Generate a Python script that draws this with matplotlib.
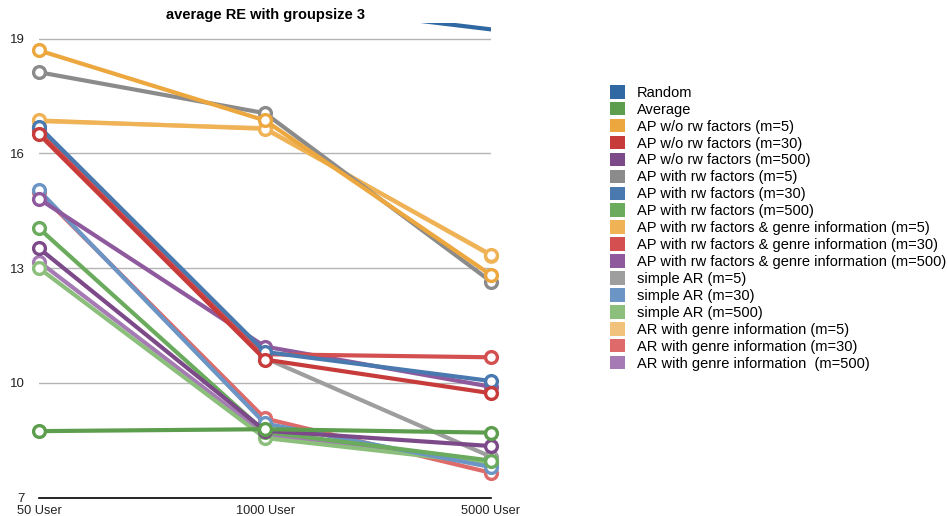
import matplotlib
matplotlib.use("Agg")
import matplotlib.pyplot as plt
from matplotlib.patches import Patch

plt.rcParams['font.family'] = ['Liberation Sans', 'DejaVu Sans']

categories = ["50 User", "1000 User", "5000 User"]

series_names = [
    "Random",
    "Average",
    "AP w/o rw factors (m=5)",
    "AP w/o rw factors (m=30)",
    "AP w/o rw factors (m=500)",
    "AP with rw factors (m=5)",
    "AP with rw factors (m=30)",
    "AP with rw factors (m=500)",
    "AP with rw factors & genre information (m=5)",
    "AP with rw factors & genre information (m=30)",
    "AP with rw factors & genre information (m=500)",
    "simple AR (m=5)",
    "simple AR (m=30)",
    "simple AR (m=500)",
    "AR with genre information (m=5)",
    "AR with genre information (m=30)",
    "AR with genre information  (m=500)",
]

random_re = [20.9, 19.95, 19.24]
average_re = [8.74, 8.79, 8.70]
ap_norw_m5 = [18.69, 16.86, 12.82]
ap_norw_m30 = [16.50, 10.61, 9.73]
ap_norw_m500 = [13.52, 8.75, 8.35]
ap_rw_m5 = [18.12, 17.05, 12.65]
ap_rw_m30 = [16.70, 10.81, 10.05]
ap_rw_m500 = [14.04, 8.72, 7.97]
ap_rw_genre_m5 = [16.86, 16.64, 13.35]
ap_rw_genre_m30 = [16.60, 10.75, 10.67]
ap_rw_genre_m500 = [14.81, 10.95, 9.90]
simple_ar_m5 = [16.65, 10.65, 8.07]
simple_ar_m30 = [15.03, 8.94, 7.80]
simple_ar_m500 = [13.00, 8.56, 7.90]
ar_genre_m5 = [16.84, 16.66, 13.33]
ar_genre_m30 = [14.98, 9.07, 7.65]
ar_genre_m500 = [13.17, 8.65, 7.88]

series_values = [
    random_re, average_re, ap_norw_m5, ap_norw_m30, ap_norw_m500,
    ap_rw_m5, ap_rw_m30, ap_rw_m500, ap_rw_genre_m5, ap_rw_genre_m30,
    ap_rw_genre_m500, simple_ar_m5, simple_ar_m30, simple_ar_m500,
    ar_genre_m5, ar_genre_m30, ar_genre_m500,
]

colors = [
    "#2f68a3", "#5d9e4e", "#eca73e", "#c83b3b", "#7c4a88",
    "#8b8b8b", "#4a79b0", "#6aab5e", "#efb356", "#d45050",
    "#8f5a9d", "#9e9e9e", "#6a95c4", "#8cbf7c", "#f1c27c",
    "#de6a6a", "#a67bb5",
]

y_ticks = [7, 10, 13, 16, 19]
y_top = 19.42

fig = plt.figure(figsize=(9.48, 5.16), dpi=100)
ax = fig.add_axes([39 / 948, (516 - 497.7) / 516, (491 - 39) / 948, (497.7 - 22.5) / 516])

x = list(range(len(categories)))
n = len(series_names)
# earlier series sit on top of later ones
for i, (name, vals, col) in enumerate(zip(series_names, series_values, colors)):
    z = 10 + (n - i) * 2
    ax.plot(x, vals, color=col, lw=3.0, solid_capstyle='round', zorder=z)
    if i == 0:
        continue
    ax.plot(x, vals, linestyle='none', marker='o', markersize=8.5,
            markerfacecolor='white', markeredgecolor=col, markeredgewidth=2.4,
            zorder=z + 1, clip_on=False)

ax.set_xlim(0, 2)
ax.set_ylim(7, y_top)
ax.set_yticks(y_ticks)
ax.set_yticklabels([str(t) for t in y_ticks], fontsize=9.5)
ax.set_xticks(x)
ax.set_xticklabels(categories, fontsize=9.2)
ax.tick_params(axis='both', length=0, colors='#222222')
ax.tick_params(axis='y', pad=10)
ax.tick_params(axis='x', pad=5)
for s in ['left', 'right', 'top']:
    ax.spines[s].set_visible(False)
ax.spines['bottom'].set_color('black')
ax.spines['bottom'].set_linewidth(1.2)
ax.spines['bottom'].set_zorder(5)
for t in y_ticks[1:]:
    ax.axhline(t, color='#b4b4b4', lw=1.0, zorder=1)

fig.text(265 / 948, 1 - 15 / 516, "average RE with groupsize 3", ha='center', va='center',
         fontsize=10.5, fontweight='bold')

handles = [Patch(facecolor=c, edgecolor='none') for c in colors]
fig.legend(handles, series_names, loc='upper left', bbox_to_anchor=(610 / 948, 1 - 85 / 516),
           frameon=False, fontsize=10.5, handlelength=1.05, handleheight=1.05,
           handletextpad=0.8, labelspacing=0.15, borderaxespad=0, borderpad=0)

fig.savefig("out.png", dpi=100)
